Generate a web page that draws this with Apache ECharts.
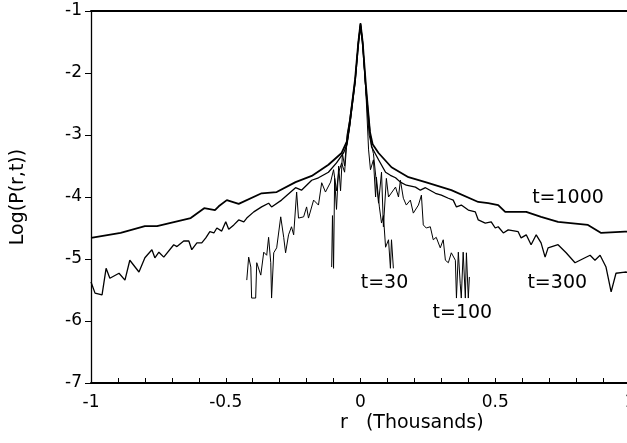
<!DOCTYPE html>
<html>
<head>
<meta charset="utf-8">
<script src="https://cdn.jsdelivr.net/npm/echarts@6/dist/echarts.min.js"></script>
<style>
  html, body { margin: 0; padding: 0; background: #fff; }
  #chart { width: 627px; height: 443px; }
</style>
</head>
<body>
<div id="chart"></div>
<script>
// r in thousands, value = log P(r,t)
const t1000 = [
  [-1.00,-4.66],[-0.89,-4.58],[-0.80,-4.47],[-0.755,-4.47],[-0.63,-4.34],[-0.58,-4.18],
  [-0.54,-4.21],[-0.526,-4.15],[-0.496,-4.05],[-0.452,-4.11],[-0.367,-3.94],[-0.311,-3.92],
  [-0.241,-3.76],[-0.181,-3.66],[-0.119,-3.48],[-0.070,-3.29],[-0.05,-3.1],[-0.04,-2.8],
  [-0.02,-2.1],[-0.008,-1.5],[0,-1.2],[0.008,-1.5],[0.02,-2.2],[0.035,-2.95],[0.045,-3.15],
  [0.067,-3.29],[0.115,-3.52],[0.178,-3.68],[0.241,-3.76],[0.337,-3.89],[0.437,-4.08],
  [0.474,-4.10],[0.511,-4.13],[0.537,-4.24],[0.615,-4.24],[0.670,-4.32],[0.733,-4.40],
  [0.844,-4.45],[0.893,-4.58],[0.981,-4.56],[1.0,-4.56]
];
const t300 = [
  [-1.0,-5.37],[-0.985,-5.55],[-0.959,-5.58],[-0.944,-5.15],[-0.930,-5.31],[-0.896,-5.23],
  [-0.874,-5.34],[-0.856,-5.02],[-0.822,-5.21],[-0.800,-4.98],[-0.774,-4.85],[-0.763,-4.98],
  [-0.748,-4.89],[-0.730,-4.97],[-0.693,-4.77],[-0.681,-4.80],[-0.656,-4.71],[-0.637,-4.71],
  [-0.626,-4.85],[-0.607,-4.74],[-0.589,-4.74],[-0.574,-4.66],[-0.559,-4.56],[-0.544,-4.58],
  [-0.533,-4.50],[-0.515,-4.55],[-0.500,-4.40],[-0.489,-4.52],[-0.470,-4.45],[-0.452,-4.37],
  [-0.433,-4.40],[-0.422,-4.34],[-0.396,-4.24],[-0.367,-4.16],[-0.341,-4.10],[-0.330,-4.16],
  [-0.293,-4.05],[-0.241,-3.85],[-0.219,-3.89],[-0.181,-3.73],[-0.156,-3.69],[-0.119,-3.60],
  [-0.089,-3.45],[-0.063,-3.29],[-0.05,-3.15],[-0.04,-2.85],[-0.02,-2.15],[-0.008,-1.55],
  [0,-1.25],[0.008,-1.55],[0.02,-2.25],[0.035,-2.95],[0.041,-3.19],[0.067,-3.40],[0.093,-3.60],
  [0.111,-3.65],[0.130,-3.69],[0.148,-3.76],[0.170,-3.81],[0.204,-3.84],[0.222,-3.89],
  [0.241,-3.85],[0.278,-3.94],[0.300,-3.97],[0.326,-4.02],[0.344,-4.05],[0.356,-4.16],
  [0.374,-4.13],[0.400,-4.21],[0.426,-4.24],[0.437,-4.37],[0.463,-4.42],[0.485,-4.40],
  [0.500,-4.50],[0.511,-4.48],[0.530,-4.58],[0.548,-4.53],[0.585,-4.56],[0.596,-4.66],
  [0.615,-4.61],[0.633,-4.77],[0.652,-4.61],[0.670,-4.74],[0.685,-4.97],[0.696,-4.82],
  [0.733,-4.77],[0.763,-4.90],[0.796,-5.06],[0.833,-4.98],[0.852,-4.94],[0.870,-5.02],
  [0.889,-4.94],[0.911,-5.13],[0.930,-5.53],[0.948,-5.23],[0.981,-5.21],[1.0,-5.22]
];
const t100 = [
  [-0.422,-5.34],[-0.415,-4.97],[-0.407,-5.13],[-0.404,-5.63],[-0.389,-5.63],[-0.385,-5.06],
  [-0.370,-5.26],[-0.359,-4.89],[-0.348,-4.94],[-0.341,-4.65],[-0.333,-5.06],[-0.330,-5.63],
  [-0.322,-4.90],[-0.311,-4.82],[-0.296,-4.32],[-0.285,-4.65],[-0.278,-4.90],[-0.267,-4.61],
  [-0.256,-4.48],[-0.248,-4.61],[-0.237,-3.92],[-0.230,-4.34],[-0.211,-4.32],[-0.200,-4.16],
  [-0.193,-4.34],[-0.174,-4.05],[-0.156,-4.13],[-0.144,-3.77],[-0.130,-3.92],[-0.111,-3.76],
  [-0.100,-3.56],[-0.089,-3.9],[-0.081,-3.6],[-0.070,-3.45],[-0.059,-3.6],[-0.052,-3.2],
  [-0.04,-2.85],[-0.02,-2.15],[-0.008,-1.5],[0,-1.2],[0.008,-1.5],[0.02,-2.3],[0.032,-3.0],
  [0.048,-3.3],[0.067,-4.10],[0.078,-3.6],[0.085,-4.48],[0.096,-3.7],[0.104,-4.0],[0.130,-3.84],
  [0.141,-4.0],[0.148,-3.73],[0.159,-4.02],[0.170,-4.13],[0.185,-4.05],[0.196,-4.26],
  [0.215,-4.13],[0.226,-3.97],[0.233,-4.45],[0.244,-4.50],[0.259,-4.48],[0.270,-4.69],
  [0.281,-4.65],[0.296,-4.82],[0.307,-4.69],[0.315,-5.02],[0.326,-5.06],[0.337,-4.90],
  [0.352,-5.02],[0.356,-5.63],[0.363,-4.89],[0.370,-5.4],[0.374,-5.63],[0.381,-4.89],
  [0.389,-5.63],[0.393,-4.9],[0.400,-5.63],[0.404,-5.29]
];
const t30 = [
  [-0.107,-5.13],[-0.104,-4.3],[-0.100,-5.15],[-0.096,-3.7],[-0.089,-4.2],[-0.081,-3.5],
  [-0.074,-3.9],[-0.067,-3.3],[-0.059,-3.5],[-0.05,-3.0],[-0.04,-2.75],[-0.02,-2.1],
  [-0.008,-1.5],[0,-1.2],[0.008,-1.5],[0.02,-2.3],[0.03,-3.24],[0.037,-3.56],[0.048,-3.40],
  [0.056,-4.0],[0.059,-3.68],[0.070,-4.16],[0.078,-4.42],[0.085,-4.3],[0.093,-4.81],
  [0.104,-4.69],[0.111,-5.15],[0.115,-4.69],[0.122,-5.15]
];

const curveNames = ['t=1000', 't=300', 't=100', 't=30'];
const curveData = [t1000, t300, t100, t30];
const curveWidths = [1.8, 1.3, 1, 1];
// where each curve's label sits, in data units
const labelSpots = [[0.77, -4.02], [0.73, -5.39], [0.378, -5.87], [0.089, -5.39]];

const xMin = -1, xMax = 1, xStep = 0.5;
const yMin = -7, yMax = -1, yStep = 1;

const FONT = 'DejaVu Sans';

const chart = echarts.init(document.getElementById('chart'));

const series = curveData.map((d, i) => ({
  name: curveNames[i],
  type: 'line',
  data: d,
  showSymbol: false,
  symbol: 'none',
  lineStyle: { color: '#000', width: curveWidths[i] },
  z: 3,
  markPoint: {
    symbol: 'circle',
    symbolSize: 1,
    itemStyle: { color: 'rgba(0,0,0,0)' },
    label: {
      show: true,
      position: 'inside',
      formatter: curveNames[i],
      color: '#000',
      fontFamily: FONT,
      fontSize: 19
    },
    data: [{ coord: labelSpots[i] }]
  }
}));

chart.setOption({
  animation: false,
  backgroundColor: '#fff',
  grid: { left: 91, right: -3, top: 11, bottom: 60, outerBoundsMode: 'none' },
  xAxis: [{
    type: 'value',
    min: xMin, max: xMax, interval: xStep,
    splitLine: { show: false },
    axisLine: { onZero: false, lineStyle: { color: '#000', width: 2 } },
    axisTick: { inside: true, length: 5, lineStyle: { color: '#000' } },
    minorTick: { show: true, splitNumber: 5, length: 5, lineStyle: { color: '#000' } },
    axisLabel: { color: '#000', fontFamily: FONT, fontSize: 17, margin: 11 }
  }, {
    type: 'value',
    position: 'top',
    min: xMin, max: xMax,
    splitLine: { show: false },
    axisLine: { onZero: false, lineStyle: { color: '#000', width: 2 } },
    axisTick: { show: false },
    axisLabel: { show: false }
  }],
  yAxis: {
    type: 'value',
    min: yMin, max: yMax, interval: yStep,
    name: 'Log(P(r,t))',
    nameLocation: 'middle',
    nameGap: 63,
    nameTextStyle: { color: '#000', fontFamily: FONT, fontSize: 19 },
    splitLine: { show: false },
    axisLine: { show: true, onZero: false, lineStyle: { color: '#000', width: 1.3 } },
    axisTick: { length: 6, lineStyle: { color: '#000' } },
    axisLabel: { color: '#000', fontFamily: FONT, fontSize: 17, margin: 9 }
  },
  graphic: [{
    type: 'text',
    left: 340,
    top: 414,
    style: { text: 'r   (Thousands)', fill: '#000', font: '19px "DejaVu Sans"' }
  }],
  series: series
});
</script>
</body>
</html>
